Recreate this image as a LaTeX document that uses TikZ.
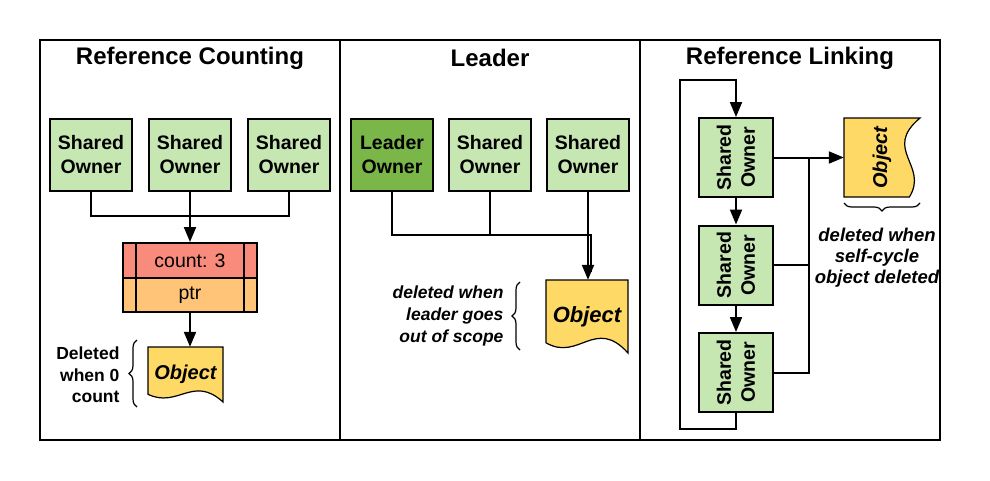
\documentclass[tikz,border=0pt]{standalone}
\usepackage{fontspec}
\setmainfont{Liberation Sans}
\usetikzlibrary{arrows.meta, positioning, calc, backgrounds, decorations.pathreplacing}
\definecolor{ownergreen}{HTML}{C6E6B2}
\definecolor{leadergreen}{HTML}{7AB648}
\definecolor{countred}{HTML}{F98B7D}
\definecolor{ptrorange}{HTML}{FFC477}
\definecolor{objyellow}{HTML}{FFD966}
\tikzset{
        owner/.style={rectangle, draw, line width=2pt, fill=ownergreen, minimum width=82pt, minimum height=72pt, align=center, font=\bfseries\fontsize{19.5}{24}\selectfont},
        leader/.style={owner, fill=leadergreen},
        cell/.style={rectangle, draw, line width=2pt, minimum width=134pt, font=\fontsize{19.5}{23}\selectfont},
        objtext/.style={rectangle, font=\bfseries\itshape\fontsize{20}{24}\selectfont},
        note/.style={align=right, font=\bfseries\fontsize{17.5}{21.5}\selectfont},
        title/.style={font=\bfseries\fontsize{24}{29}\selectfont},
        link/.style={line width=2pt},
        arrow/.style={line width=2pt, -{Triangle[length=15pt, width=12pt]}},
        curly/.style={decorate, decoration={brace, amplitude=8pt}, line width=1.2pt},
        frame/.style={line width=1.5pt},
    }
% document outline behind an Object node: node, width, height, angle
\newcommand{\docshape}[4]{%
    \begin{scope}[on background layer, shift={(#1.center)}, rotate=#4]
        \filldraw[fill=objyellow, line width=1.2pt] (-#2/2,-#3/2) -- (#2/2,-#3/2) -- (#2/2,#3/2)
            .. controls (0.1*#2,0) and (-0.1*#2,0.62*#3) .. (-#2/2,0.36*#3) -- cycle;
    \end{scope}}

\begin{document}
\begin{tikzpicture}[x=1pt, y=-1pt]
        \useasboundingbox (0,0) rectangle (990,480);
        \draw[frame] (40,40) rectangle (940,440);
        \draw[frame] (340,40) -- (340,440);
        \draw[frame] (640,40) -- (640,440);

        % Reference Counting
        \node[title] (rctitle) at (190,58) {Reference Counting};
        \node[owner] (rc1) at (91,155) {Shared\\Owner};
        \node[owner] (rc2) at (190,155) {Shared\\Owner};
        \node[owner] (rc3) at (289,155) {Shared\\Owner};
        \node[cell, fill=countred, minimum height=35pt] (rccount) at (190,260.5) {count: 3};
        \node[cell, fill=ptrorange, minimum height=34pt] (rcptr) at (190,295) {ptr};
        \draw[link] ($(rccount.north west)+(14,0)$) -- ($(rcptr.south west)+(14,0)$);
        \draw[link] ($(rccount.north east)+(-14,0)$) -- ($(rcptr.south east)+(-14,0)$);
        \node[objtext, minimum width=75pt, minimum height=55pt] (rcobj) at (185.5,374.5) {Object};
        \docshape{rcobj}{75}{55}{0}
        \coordinate (rcjoin) at (190,216);
        \draw[link] (rc1.south) |- (rcjoin) -| (rc3.south);
        \draw[arrow] (rc2.south) -- (rccount.north);
        \draw[arrow] (rcptr.south) -- (rcptr.south |- rcobj.north);
        \draw[curly] (137,407) -- (137,340);
        \node[note, anchor=east] (rcnote) at (123,375) {Deleted\\when 0\\count};

        % Leader
        \node[title] (ldtitle) at (490,58) {Leader};
        \node[leader] (ld1) at (392,155) {Leader\\Owner};
        \node[owner] (ld2) at (490,155) {Shared\\Owner};
        \node[owner] (ld3) at (588,155) {Shared\\Owner};
        \node[objtext, minimum width=82pt, minimum height=73pt, font=\bfseries\itshape\fontsize{22}{26}\selectfont] (ldobj) at (587,316.5) {Object};
        \docshape{ldobj}{82}{73}{0}
        \coordinate (ldjoin) at (591,235);
        \draw[link] (ld1.south) |- (ldjoin) -- ($(ldjoin |- ldobj.north)+(0,-8)$);
        \draw[link] (ld2.south) -- (ld2.south |- ldjoin);
        \draw[arrow] (ld3.south) -- (ld3.south |- ldobj.north);
        \draw[curly] (520,350) -- (520,282);
        \node[note, anchor=east, font=\bfseries\itshape\fontsize{17.5}{22}\selectfont] (ldnote) at (507,316) {deleted when\\leader goes\\out of scope};

        % Reference Linking
        \node[title] (rltitle) at (790,58) {Reference Linking};
        \node[owner, rotate=90, minimum width=79pt, minimum height=74pt] (rl1) at (736,157.5) {Shared\\Owner};
        \node[owner, rotate=90, minimum width=79pt, minimum height=74pt] (rl2) at (736,265) {Shared\\Owner};
        \node[owner, rotate=90, minimum width=79pt, minimum height=74pt] (rl3) at (736,372.5) {Shared\\Owner};
        \node[objtext, rotate=90, minimum width=79pt, minimum height=76pt] (rlobj) at (882,157.5) {Object};
        \docshape{rlobj}{79}{76}{90}
        \draw[arrow] (rl1) -- (rl2);
        \draw[arrow] (rl2) -- (rl3);
        \coordinate (loopbl) at (680,429);
        \coordinate (looptl) at (680,80);
        \draw[arrow] (rl3.west) |- (loopbl) -- (looptl) -| (rl1.east);
        \coordinate (rlbus) at (809,157.5);
        \draw[arrow] (rl1.south) -- (rlobj);
        \draw[link] (rl2.south) -| (rlbus);
        \draw[link] (rl3.south) -| (rlbus);
        \draw[curly] (920,203) -- (844,203);
        \node[note, align=center, font=\bfseries\itshape\fontsize{18.5}{21}\selectfont] (rlnote) at (877,258) {deleted when\\self-cycle\\object deleted};
\end{tikzpicture}
\end{document}
